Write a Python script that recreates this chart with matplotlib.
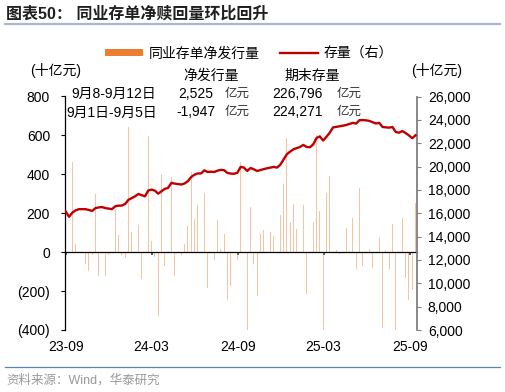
# -*- coding: utf-8 -*-
import pandas as pd
import matplotlib
matplotlib.use('Agg')
import matplotlib.pyplot as plt
from matplotlib.lines import Line2D
from matplotlib.patches import Patch
from matplotlib.ticker import FuncFormatter, MultipleLocator

plt.rcParams['font.family'] = ['Liberation Sans', 'Noto Sans CJK SC']
plt.rcParams['axes.unicode_minus'] = False

# weekly data, 十亿元
dates = pd.date_range('2023-09-01', periods=107, freq='7D')

net_issue = [
    50, -410, 464, 40, 26, -5, -60, -95, -17, 301,
    -120, 155, -120, -14, -52, 224, 86, -17, -29, 642,
    103, 215, 141, -138, -163, 599, 55, -26, -327, 401,
    -69, 224, 387, -120, 10, -17, 40, 134, 410, 169,
    241, -40, 304, -186, 98, -40, 163, 15, 95, -244,
    -172, 31, -40, 464, 241, -413, 232, -60, -224, 95,
    112, -52, 103, 83, -100, 189, 349, 588, 155, 249,
    117, 64, 241, -215, -29, 155, 602, 211, -404, 304,
    392, 387, 10, -10, 163, 124, 5, 176, -86, 330,
    -72, -26, 14, -83, -163, 77, -390, 10, -86, 143,
    -413, 9, 176, -132, -244, -194.7, 252.5,
]

stock = [
    16140, 15700, 16050, 16250, 16350, 16350, 16350, 16280, 16200, 16440,
    16500, 16530, 16440, 16400, 16350, 16600, 16650, 16660, 16800, 17150,
    17300, 17450, 17650, 17550, 17450, 17950, 18025, 17940, 17680, 17880,
    18085, 18170, 18600, 18540, 18500, 18460, 18550, 18750, 19100, 19300,
    19410, 19410, 19680, 19530, 19560, 19530, 19650, 19720, 19680, 19450,
    19400, 19380, 19470, 19970, 19910, 19620, 19880, 19760, 19620, 19700,
    19780, 19850, 19910, 19970, 19910, 20150, 20600, 21050, 21280, 21480,
    21580, 21680, 21850, 21680, 21650, 21900, 22450, 22580, 22230, 22550,
    22900, 23350, 23400, 23450, 23500, 23560, 23650, 23740, 23680, 23970,
    23980, 23960, 23910, 23800, 23690, 23740, 23390, 23360, 23330, 23390,
    22960, 22900, 23040, 22870, 22670, 22427, 22680,
]

tick_dates = pd.to_datetime(['2023-09-01', '2024-03-01', '2024-09-01', '2025-03-01', '2025-09-01'])
tick_labels = ['23-09', '24-03', '24-09', '25-03', '25-09']

W, H = 506, 392


def px(x, y):
    return x / W, 1 - y / H


fig = plt.figure(figsize=(W / 100, H / 100), dpi=100)
fig.patch.set_facecolor('white')

ax = fig.add_axes([65.3 / W, 1 - 330 / H, (416.7 - 65.3) / W, (330 - 96.5) / H])
ax.bar(dates, net_issue, width=1.8, color='#ED7D31', alpha=0.45, linewidth=0, zorder=2)
ax.set_ylim(-400, 800)
ax.set_xlim(dates[0] - pd.Timedelta(days=1), dates[-1] + pd.Timedelta(days=2.5))
ax.yaxis.set_major_locator(MultipleLocator(200))
ax.yaxis.set_major_formatter(FuncFormatter(lambda v, p: '(%d)' % abs(v) if v < 0 else '%d' % v))
ax.tick_params(axis='y', direction='out', length=3, width=0.8, pad=8, labelsize=10, colors='black')

for s in ['top', 'right']:
    ax.spines[s].set_visible(False)
ax.spines['left'].set_color('black')
ax.spines['left'].set_linewidth(0.9)
ax.spines['left'].set_zorder(5)
ax.spines['bottom'].set_position(('data', 0))
ax.spines['bottom'].set_color('black')
ax.spines['bottom'].set_linewidth(0.9)
ax.spines['bottom'].set_zorder(5)
ax.set_xticks(tick_dates)
ax.tick_params(axis='x', direction='out', length=2.5, width=1.2, color='#404040', labelbottom=False)

# labels at the bottom of the plot area
sec = ax.secondary_xaxis(0.0)
sec.set_xticks(tick_dates, tick_labels)
sec.spines['bottom'].set_visible(False)
sec.tick_params(length=0, pad=7, labelsize=10)

ax2 = ax.twinx()
ax2.plot(dates, stock, color='#C00000', linewidth=1.7, zorder=3)
ax2.set_ylim(6000, 26000)
ax2.yaxis.set_major_locator(MultipleLocator(2000))
ax2.yaxis.set_major_formatter(FuncFormatter(lambda v, p: '{:,.0f}'.format(v)))
ax2.tick_params(axis='y', direction='out', length=3, width=0.8, pad=5, labelsize=10,
                color='#7F7F7F', labelcolor='black')
for s in ['top', 'left', 'bottom']:
    ax2.spines[s].set_visible(False)
ax2.spines['right'].set_color('#7F7F7F')
ax2.spines['right'].set_linewidth(1.3)

# legend
handles = [Patch(facecolor='#ED7D31', edgecolor='none'),
           Line2D([0], [0], color='#C00000', linewidth=1.7)]
fig.legend(handles, ['同业存单净发行量', '存量（右）'], loc='center',
           bbox_to_anchor=px(249, 53.5), ncol=2, frameon=False, fontsize=10,
           handlelength=2.75, handleheight=0.45, handletextpad=0.4, columnspacing=1.5)

# title and frame lines
fig.text(*px(6, 14), '图表50： 同业存单净赎回量环比回升', fontsize=11.5, fontweight='bold',
         color='#1F1F1F', va='center', ha='left')
fig.add_artist(Line2D([5 / W, 500 / W], [1 - 24 / H, 1 - 24 / H], color='#A6B8CC', linewidth=1.6))
fig.add_artist(Line2D([5 / W, 500 / W], [1 - 367 / H, 1 - 367 / H], color='#5B84B8', linewidth=0.9))
fig.text(*px(6, 380), '资料来源：Wind，华泰研究', fontsize=9, color='#9A9A9A', va='center', ha='left')

# units
fig.text(*px(56, 71), '(十亿元)', fontsize=10, ha='center', va='center')
fig.text(*px(436.5, 71), '(十亿元)', fontsize=10, ha='center', va='center')

# annotation block
fig.text(*px(71, 94), '9月8-9月12日', fontsize=10, ha='left', va='center')
fig.text(*px(66, 113), '9月1日-9月5日', fontsize=10, ha='left', va='center')
fig.text(*px(211, 76), '净发行量', fontsize=10, ha='center', va='center')
fig.text(*px(312, 76), '期末存量', fontsize=10, ha='center', va='center')
fig.text(*px(195.3, 93.5), '2,525', fontsize=10, ha='center', va='center')
fig.text(*px(195.8, 112), '-1,947', fontsize=10, ha='center', va='center')
fig.text(*px(297, 93.5), '226,796', fontsize=10, ha='center', va='center')
fig.text(*px(297.5, 112), '224,271', fontsize=10, ha='center', va='center')
for xx in [225, 337]:
    fig.text(*px(xx, 93.5), '亿元', fontsize=9, ha='left', va='center', color='#333333')
    fig.text(*px(xx, 112), '亿元', fontsize=9, ha='left', va='center', color='#333333')

fig.savefig('out.png', dpi=100, facecolor='white')
